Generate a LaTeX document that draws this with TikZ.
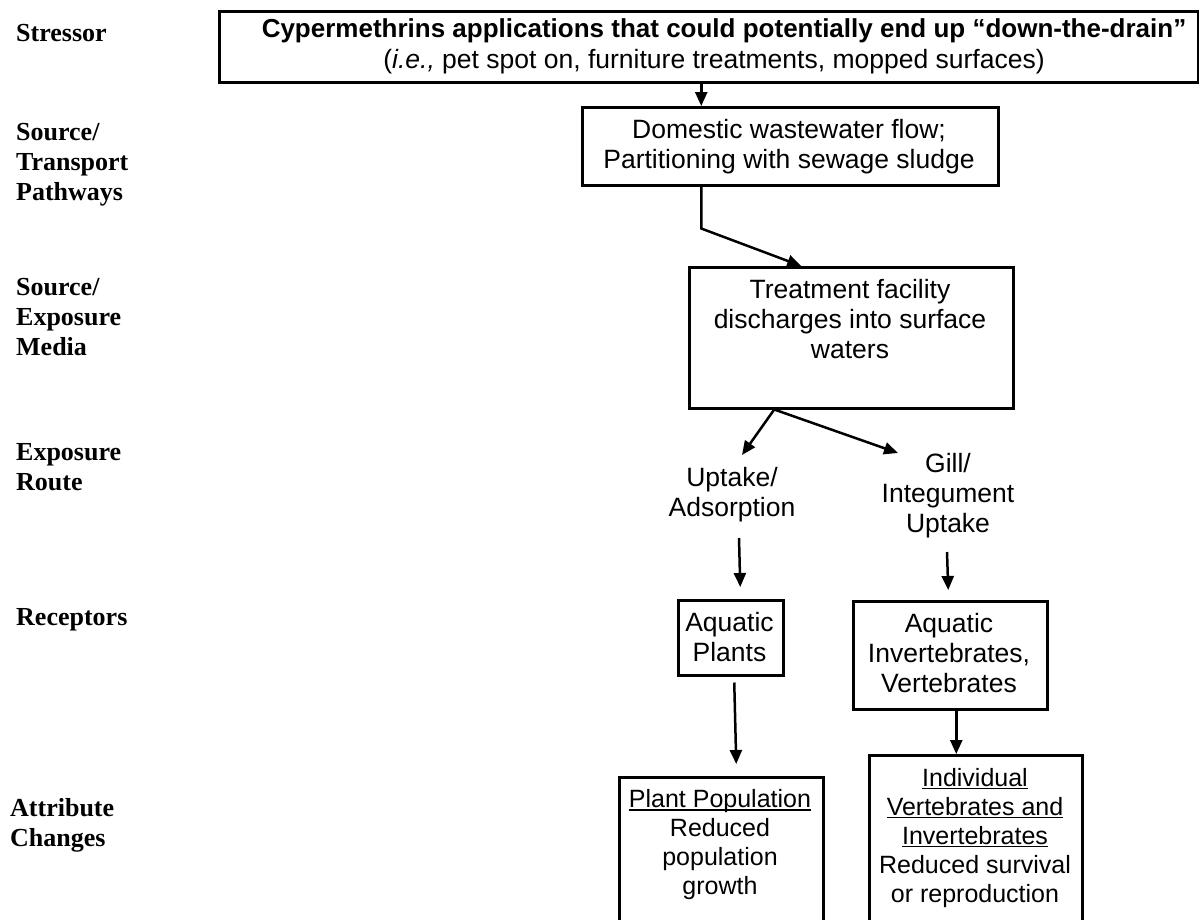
\documentclass[tikz,border=0pt]{standalone}
\usepackage{fontspec}
\setmainfont{Liberation Sans}
\newfontfamily\tmsfont{Liberation Serif}
\usetikzlibrary{arrows.meta,calc}
% underline drawn as a thin rule just below the baseline
\newcommand\ulin[1]{\setbox0\hbox{#1}\rlap{\rule[-3pt]{\wd0}{1.5pt}}\box0}

\begin{document}
\begin{tikzpicture}[x=1pt,y=-1pt,
  box/.style={draw,line width=2.5pt,inner sep=0pt,anchor=north west},
  body/.style={font=\fontsize{26.5}{30}\selectfont,align=center,inner sep=0pt},
  small/.style={font=\fontsize{25}{29}\selectfont,align=center,inner sep=0pt},
  lvl/.style={font=\tmsfont\bfseries\fontsize{26}{30}\selectfont,align=left,anchor=west,inner sep=0pt},
  arr/.style={line width=2.5pt,-{Triangle[length=14pt,width=12pt]}}]

\useasboundingbox (0,0) rectangle (1199,919);
\fill[white] (0,0) rectangle (1199,919);
\clip (0,0) rectangle (1199,919);

% level labels
\node[lvl] (lStress) at (16,33) {Stressor};
\node[lvl] (lSrcT) at (16,165) {Source/\\Transport\\Pathways};
\node[lvl] (lSrcE) at (16,317) {Source/\\Exposure\\Media};
\node[lvl] (lExpR) at (16,467) {Exposure\\Route};
\node[lvl] (lRecep) at (16,620) {Receptors};
\node[lvl] (lAttr) at (10,825) {Attribute\\Changes};

% stressor
\node[box,minimum width=979pt,minimum height=71pt] (topbox) at (218,10) {};
\node[inner sep=0pt,anchor=base,font=\bfseries\fontsize{26}{30}\selectfont] (t1) at (724,37)
  {Cypermethrins applications that could potentially end up “down-the-drain”};
\node[inner sep=0pt,anchor=base,font=\fontsize{26.5}{30}\selectfont] (t2) at (714,68)
  {(\textit{i.e.,} pet spot on, furniture treatments, mopped surfaces)};

% source / transport
\node[box,minimum width=416pt,minimum height=78pt] (b2) at (581,106) {};
\node[body] (b2t) at (789,147) {Domestic wastewater flow;\\Partitioning with sewage sludge};

% source / exposure media
\node[box,minimum width=324pt,minimum height=141pt] (b3) at (688,266) {};
\node[body] (b3t) at (850,319) {Treatment facility\\discharges into surface\\waters};

% exposure routes
\node[body] (uptake) at (732,495) {Uptake/\\Adsorption};
\node[body] (gill) at (948,496) {Gill/\\Integument\\Uptake};

% receptors
\node[box,minimum width=105pt,minimum height=75pt] (plants) at (677,599) {};
\node[body] (plantst) at (729.5,637) {Aquatic\\Plants};
\node[box,minimum width=194pt,minimum height=108pt] (inv) at (852,600) {};
\node[body] (invt) at (949,653) {Aquatic\\Invertebrates,\\Vertebrates};

% attribute changes
\node[box,minimum width=204pt,minimum height=200pt] (plantpop) at (618,776) {};
\node[small] (plantpopt) at (720,845) {\ulin{Plant Population}\\Reduced\\population\\growth};
\node[box,minimum width=213pt,minimum height=220pt] (indiv) at (868,754) {};
\node[small] (indivt) at (975,838) {\ulin{Individual}\\\ulin{Vertebrates and}\\\ulin{Invertebrates}\\Reduced survival\\or reproduction};

% connectors
\draw[arr] ([xshift=-89pt]b2.north |- topbox.south) -- ([xshift=-89pt]b2.north);
\draw[arr] ([xshift=-89pt]b2.south) -- ++(0,42) -- ([xshift=-50pt]b3.north);
\draw[arr] ([xshift=-77pt]b3.south) -- ($(uptake.center)+(10,-40)$);
\draw[arr] ([xshift=-77pt]b3.south) -- ($(gill.center)+(-50,-43)$);
\draw[arr] ($(uptake.center)+(7,43)$) -- ($(plants.north)+(9.5,-12)$);
\draw[arr] ($(gill.center)+(-1,56)$) -- ($(inv.north)+(-2,-10)$);
\draw[arr] ($(plants.south)+(3.5,6)$) -- ($(plantpop.north)+(15,-12)$);
\draw[arr] ($(inv.south)+(6,-1)$) -- ($(indiv.north)+(-19.5,0)$);
\end{tikzpicture}
\end{document}
